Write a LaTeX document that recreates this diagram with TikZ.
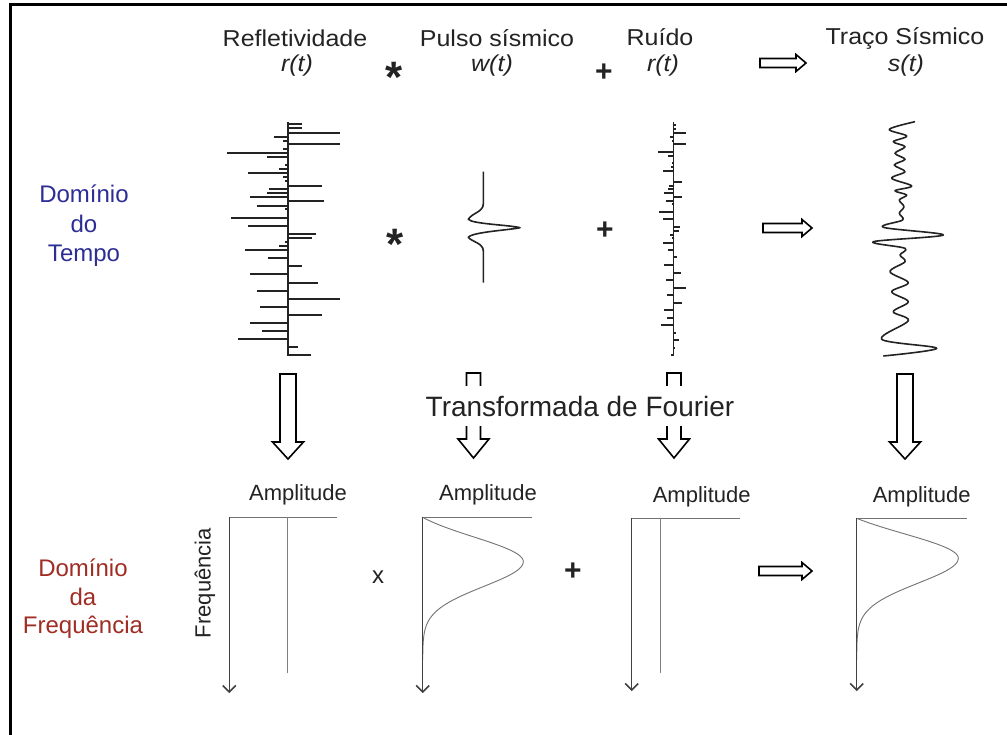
\documentclass[tikz,border=0pt]{standalone}
\usepackage{fontspec}
\setmainfont{Liberation Sans}
\usetikzlibrary{arrows.meta}
\definecolor{tblue}{RGB}{45,45,150}
\definecolor{fred}{RGB}{160,45,35}
\definecolor{ink}{RGB}{35,35,35}
\newcommand\hollowR[3]{\draw[hollow] (#1,#3-4.5) -- (#2-10,#3-4.5) -- (#2-10,#3-8.5) -- (#2,#3) -- (#2-10,#3+8.5) -- (#2-10,#3+4.5) -- (#1,#3+4.5) -- cycle;}
\newcommand\hollowD[6]{\draw[hollow] (#1-#4,#2) -- (#1+#4,#2) -- (#1+#4,#3-#6) -- (#1+#5,#3-#6) -- (#1,#3) -- (#1-#5,#3-#6) -- (#1-#4,#3-#6) -- cycle;}
\newcommand\squash[1]{\scalebox{1}[0.92]{#1}}
\begin{document}
\begin{tikzpicture}[x=1pt,y=-1pt,
  hollow/.style={draw=black,line width=1.6pt,fill=white,line join=miter},
  lbl/.style={font=\fontsize{25}{28}\selectfont,text=ink,inner sep=0pt},
  ital/.style={font=\fontsize{25}{28}\selectfont\itshape,text=ink,inner sep=0pt},
  amp/.style={font=\fontsize{22}{26}\selectfont,text=ink,inner sep=0pt},
  opast/.style={font=\fontsize{44}{48}\selectfont\bfseries,text=ink,inner sep=0pt,anchor=base},
  opplus/.style={font=\fontsize{30}{34}\selectfont\bfseries,text=ink,inner sep=0pt,anchor=base},
  trace/.style={draw=ink,line width=1.7pt},
  wig/.style={draw=ink,line width=1.6pt,line join=round},
  axis/.style={draw=black!75,line width=1.4pt},
  chev/.style={draw=black!75,line width=1.6pt,line join=miter},
  topline/.style={draw=black!55,line width=1.2pt},
  thin/.style={draw=black!50,line width=0.8pt},
  spec/.style={draw=black!55,line width=0.9pt}
]
\useasboundingbox (0,0) rectangle (1007,735);
\fill[white] (0,0) rectangle (1007,735);
% frame
\draw[line width=3pt] (10,745) -- (10,5) -- (1020,5);

% ---------- header row ----------
\node[lbl] (refl) at (295,38) {\squash{Refletividade}};
\node[ital] (rt) at (297,66) {\squash{r(t)}};
\node[opast] (ast1) at (394,93) {*};
\node[lbl] (pulso) at (497,38) {\squash{Pulso sísmico}};
\node[ital] (wt) at (492,66) {\squash{w(t)}};
\node[opplus] (plus1) at (604,82) {+};
\node[lbl] (ruido) at (660,37) {\squash{Ruído}};
\node[ital] (nt) at (663,66) {\squash{r(t)}};
\hollowR{760}{806}{63}
\node[lbl] (traco) at (905,38) {\squash{Traço Sísmico}};
\node[ital] (st) at (906,66) {\squash{s(t)}};

% ---------- time domain ----------
\node[align=center,text=tblue,font=\fontsize{24}{29.5}\selectfont,inner sep=0pt] (tempo) at (84,226) {Domínio\\do\\Tempo};

% reflectivity
\draw[trace] (288.3,122) -- (288.3,356);
\foreach \yy/\dd in {124.3/13.3,128.3/13.3,132.7/51.7,136.7/-14.3,140.7/-5,144.3/51.7,149/-5,152.7/-61.7,156.7/-21.7,165/-3.3,169/-9.3,172.7/-40,177.3/-5,181/-3.3,185.7/34,189.3/-19.3,193.3/-21.7,197.3/-38.3,201.3/35.7,205.7/-31.7,209.3/-3.3,217.7/-57.3,226/-40,234/27.7,237.7/23.3,242.3/-3.3,246/-9.3,250/-43.3,258/-20,266/14,274/-38.3,282.7/30,290.7/-31.7,299/51.7,307/-28.3,315/33.3,323/-38.3,331/-26.7,339/-50.7,347/10,355.3/22.7}
  \draw[trace] (288.3,\yy) -- ++(\dd,0);

\node[opast] (ast2) at (395,260) {*};

% pulse
\draw[wig] (483.3,171.7) -- (483.3,204)
  .. controls (483.3,212) and (472,213) .. (468.3,219.3)
  .. controls (472,224) and (510,225) .. (520,227.7)
  .. controls (510,230) and (472,232) .. (468.3,237.3)
  .. controls (472,242) and (483.3,243) .. (483.3,251)
  -- (483.3,282.7);

\node[opplus] (plus2) at (605,240) {+};

% noise
\draw[trace,line width=1.3pt] (673.3,122) -- (673.3,356);
\foreach \yy/\dd in {125/2.7,129.3/2.7,132.7/12.3,136.7/-3.3,140.7/-1.3,144.3/12.3,151.7/-15,155.7/-5,163.3/-1.7,166.7/-2.7,170.7/-10,181.7/8.3,186/-4,189.3/-5,193.3/-9.3,197.3/9,201/-7.7,204/-1.7,212.3/-14,219.3/-10,227/6.7,231/6,235/-3.3,238.3/-1.7,242.7/-10.7,250/-5,257.3/3.3,265/-9.3,272.7/7.3,280/-7.7,287.7/12.3,295/-6.7,302.7/8.3,310/-9.3,317.7/-6.7,325.3/-12.7,332.7/2.7,340/6,348.3/1.7,355.3/-2.7}
  \draw[trace,line width=1.8pt] (673.3,\yy) -- ++(\dd,0);

\hollowR{763}{812}{228}

% seismic trace
\draw[wig] plot[smooth,tension=0.55] coordinates {
 (915,121.7) (889.3,129.3) (906.7,136) (893.3,141.7) (905,146.7) (895,153.3) (905,159.3) (894.3,165) (905,171.7) (891.7,178.3) (911.7,186) (895,190.7) (906.7,195) (899.3,200) (904,206.7) (899.3,213.3) (902.7,220) (883.3,227.3) (943.3,235) (873.3,241.7) (905,248.3) (900,255) (905,261.7) (890,271.7) (908.3,282.7) (891.7,291.7) (908.3,301.7) (893.3,311.7) (908.3,320.7) (881.7,339.3) (936.7,348.3) (883.3,356)};

% ---------- transform arrows ----------
\hollowD{288}{374}{459}{8}{15.5}{17}
\hollowD{905}{374}{459}{8}{15.5}{17}
\hollowD{473.5}{373}{458}{7}{15.5}{19}
\hollowD{674}{373}{458}{7}{15.5}{19}
\node[font=\fontsize{28}{32}\selectfont,text=ink,fill=white,inner xsep=2pt,inner ysep=10pt] (fourier) at (580,406) {Transformada de Fourier};

% ---------- frequency domain ----------
\node[align=center,text=fred,font=\fontsize{24}{28.5}\selectfont,inner sep=0pt] (freqdom) at (83,599) {Domínio\\da\\Frequência};

% graph 1
\node[amp] (amp1) at (298,495) {Amplitude};
\node[amp,rotate=90] (freqlab) at (205,583) {Frequência};
\coordinate (g1o) at (229.3,517.3);
\coordinate (g1e) at (229.3,692);
\coordinate (g1r) at (336.7,517.3);
\draw[topline] (g1o) -- (g1r);
\draw[thin] (287.3,517.3) -- (287.3,672.7);
\draw[axis] (g1o) -- (g1e);
\draw[chev] (g1e) ++(-6.5,-6.5) -- (g1e) -- ++(6.5,-6.5);

\node[font=\fontsize{24}{28}\selectfont,text=ink,inner sep=0pt,anchor=base] (xop) at (378,583) {x};

% graph 2
\node[amp] (amp2) at (488,495) {Amplitude};
\coordinate (g2o) at (422.7,517.3);
\coordinate (g2e) at (422.7,692);
\coordinate (g2r) at (531.7,517.3);
\draw[topline] (g2o) -- (g2r);
\draw[spec] plot[variable=\t,domain=517.3:561.7,samples=40] ({422.7+100.6*(exp(-((\t-561.7)/35)*((\t-561.7)/35))-0.2)/0.8},\t)
  -- plot[variable=\t,domain=561.7:660,samples=50] ({422.7+100.6*exp(-((\t-561.7)/35)*((\t-561.7)/35))},\t);
\draw[axis] (g2o) -- (g2e);
\draw[chev] (g2e) ++(-6.5,-6.5) -- (g2e) -- ++(6.5,-6.5);

\node[opplus] (plus3) at (573,580) {+};

% graph 3
\node[amp] (amp3) at (701.7,496.7) {Amplitude};
\coordinate (g3o) at (631.7,518.3);
\coordinate (g3e) at (631.7,690);
\coordinate (g3r) at (740,518.3);
\draw[topline] (g3o) -- (g3r);
\draw[thin] (660,518.3) -- (660,673.3);
\draw[axis] (g3o) -- (g3e);
\draw[chev] (g3e) ++(-6.5,-6.5) -- (g3e) -- ++(6.5,-6.5);

\hollowR{759}{812}{571}

% graph 4
\node[amp] (amp4) at (921.7,496.7) {Amplitude};
\coordinate (g4o) at (856.7,518.3);
\coordinate (g4e) at (856.7,690);
\coordinate (g4r) at (966.7,518.3);
\draw[topline] (g4o) -- (g4r);
\draw[spec] plot[variable=\t,domain=518.3:558.3,samples=40] ({856.7+101.6*(exp(-((\t-558.3)/35)*((\t-558.3)/35))-0.271)/0.729},\t)
  -- plot[variable=\t,domain=558.3:660,samples=50] ({856.7+101.6*exp(-((\t-558.3)/35)*((\t-558.3)/35))},\t);
\draw[axis] (g4o) -- (g4e);
\draw[chev] (g4e) ++(-6.5,-6.5) -- (g4e) -- ++(6.5,-6.5);
\end{tikzpicture}
\end{document}
